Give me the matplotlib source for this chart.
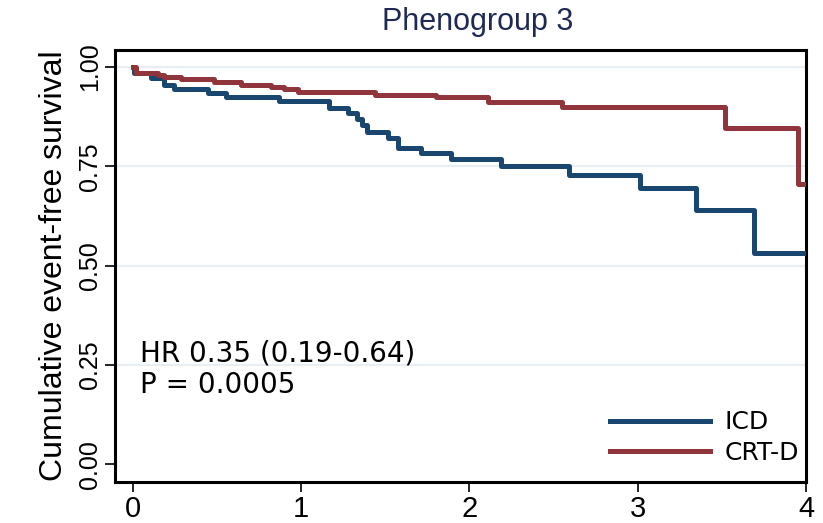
import matplotlib
matplotlib.use('Agg')
import matplotlib.pyplot as plt
from matplotlib import font_manager

# Kaplan-Meier steps (years, survival after the step)
icd_t = [0, 0.01, 0.107, 0.185, 0.244, 0.446, 0.554, 0.869, 1.167, 1.28, 1.33, 1.36, 1.39,
         1.518, 1.577, 1.714, 1.893, 2.19, 2.595, 3.012, 3.345, 3.69, 4.0]
icd_s = [1.0, 0.985, 0.972, 0.955, 0.945, 0.935, 0.924, 0.914, 0.897, 0.884, 0.87, 0.855, 0.836,
         0.821, 0.796, 0.783, 0.768, 0.751, 0.729, 0.695, 0.640, 0.531, 0.531]
crt_t = [0, 0.018, 0.149, 0.185, 0.286, 0.482, 0.643, 0.821, 0.899, 0.982, 1.44, 1.80,
         2.11, 2.55, 3.52, 3.95, 4.0]
crt_s = [1.0, 0.985, 0.980, 0.975, 0.970, 0.962, 0.955, 0.950, 0.945, 0.937, 0.930, 0.924,
         0.912, 0.899, 0.846, 0.705, 0.705]

labels = ['ICD', 'CRT-D']
y_ticks = [0, 0.25, 0.5, 0.75, 1.0]
y_ticklabels = ['0.00', '0.25', '0.50', '0.75', '1.00']
x_ticks = [0, 1, 2, 3, 4]

navy = '#1a476f'
maroon = '#90353b'

names = {f.name for f in font_manager.fontManager.ttflist}
narrow = 'Liberation Sans Narrow' in names
tick_font = 'Liberation Sans Narrow' if narrow else 'Liberation Sans'
ytick_size = 21.5 if narrow else 18
xtick_size = 24 if narrow else 21

fig = plt.figure(figsize=(8.23, 5.23), dpi=100)
ax = fig.add_axes([115 / 823, 1 - 482 / 523, 691 / 823, 432 / 523])

ax.step(icd_t, icd_s, where='post', color=navy, lw=3.6, label=labels[0], zorder=3)
ax.step(crt_t, crt_s, where='post', color=maroon, lw=3.6, label=labels[1], zorder=3)

ax.set_xlim(-0.105, 4.0)
ax.set_ylim(-0.045, 1.043)
ax.set_yticks(y_ticks)
ax.set_yticklabels(y_ticklabels, rotation=90, va='center', family=tick_font, fontsize=ytick_size)
ax.set_xticks(x_ticks)
ax.set_xticklabels([str(v) for v in x_ticks], family=tick_font, fontsize=xtick_size)
ax.tick_params(direction='out', length=7.5, width=1.2, color='black')
ax.tick_params(axis='x', pad=2)
ax.tick_params(axis='y', pad=2)

for v in y_ticks[1:]:
    ax.axhline(v, color='#e8eef3', lw=1.6, zorder=1)

for sp in ax.spines.values():
    sp.set_linewidth(2.2)

ax.set_ylabel('Cumulative event-free survival', family='Liberation Sans', fontsize=23, labelpad=6)

ax.text(0.036, 0.278, 'HR 0.35 (0.19-0.64)', transform=ax.transAxes,
        family='DejaVu Sans', fontsize=20, va='baseline')
ax.text(0.036, 0.206, 'P = 0.0005', transform=ax.transAxes,
        family='DejaVu Sans', fontsize=20, va='baseline')

ax.legend(loc='lower right', bbox_to_anchor=(0.99, 0.04), frameon=False,
          prop={'family': 'DejaVu Sans', 'size': 18}, handlelength=4.0,
          handletextpad=0.6, labelspacing=0.25, borderpad=0, borderaxespad=0)

fig.text(478 / 823, 1 - 30 / 523, 'Phenogroup 3', ha='center', va='baseline',
         family='Liberation Sans', fontsize=22, color='#1e2a55')

fig.savefig('out.png', dpi=100)
